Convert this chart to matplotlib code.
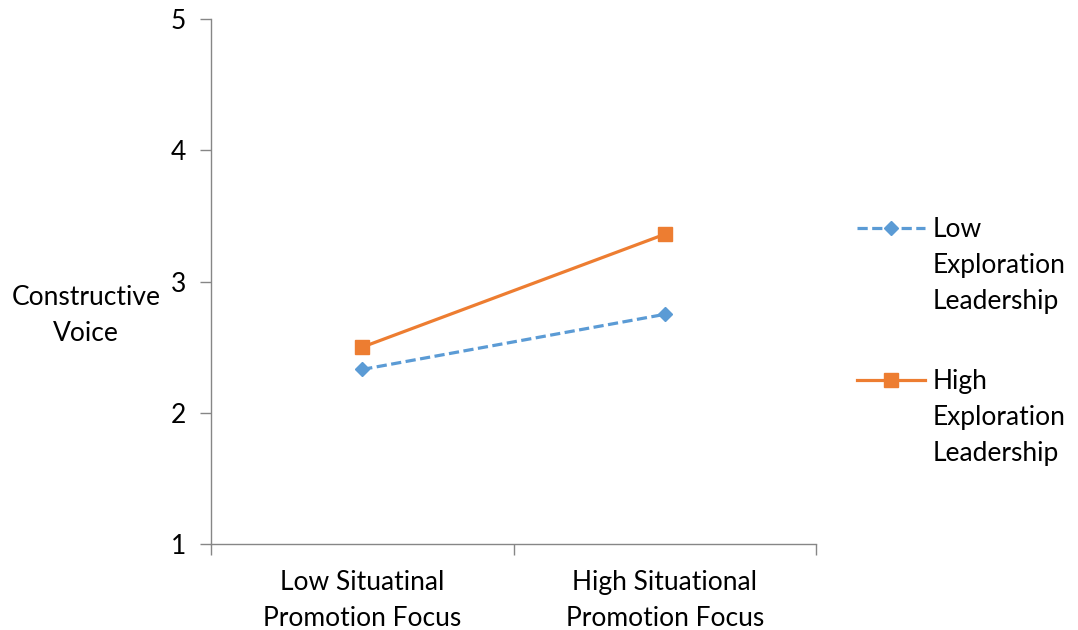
import matplotlib.pyplot as plt
from matplotlib.lines import Line2D
import numpy as np

plt.rcParams['font.family'] = ['Lato', 'DejaVu Sans']

conditions = ["Low Situatinal\nPromotion Focus", "High Situational\nPromotion Focus"]
low_exploration = [2.33, 2.75]
high_exploration = [2.50, 3.36]
series_names = ["Low\nExploration\nLeadership", "High\nExploration\nLeadership"]

FS = 19
LS = 1.55
blue = "#5B9BD5"
orange = "#ED7D31"
dash = (0, (3.2, 1.4))

fig = plt.figure(figsize=(10.78, 6.3), dpi=100)
ax = fig.add_axes([0.1957, 0.1365, 0.5613, 0.8333])

x = np.arange(len(conditions)) + 0.5
ax.plot(x, low_exploration, color=blue, linewidth=2.3, linestyle=dash,
        marker="D", markersize=7.5)
ax.plot(x, high_exploration, color=orange, linewidth=2.3,
        marker="s", markersize=9.5)

ax.set_xlim(0, 2)
ax.set_ylim(1, 5)
ax.set_yticks([1, 2, 3, 4, 5])
ax.set_xticks([0, 1, 2])
ax.set_xticklabels([])
ax.set_xticks(x, minor=True)
ax.set_xticklabels(conditions, minor=True, fontsize=FS, linespacing=LS)
ax.tick_params(axis="x", which="minor", length=0, pad=19)
ax.tick_params(axis="x", which="major", length=8, width=1, color="#868686", direction="out")
ax.tick_params(axis="y", length=8, width=1, color="#868686", labelsize=FS, pad=10)

for side in ["top", "right"]:
    ax.spines[side].set_visible(False)
for side in ["left", "bottom"]:
    ax.spines[side].set_color("#868686")
    ax.spines[side].set_linewidth(1)

fig.text(0.080, 0.4985, "Constructive\nVoice", ha="center", va="center", fontsize=FS, linespacing=LS)

# legend drawn by hand so the key lines up with the first text line
W, H = 1078, 630
legend_rows = [(228, blue, dash, "D", 7.5), (380, orange, "-", "s", 9.5)]
for (ypix, color, ls, mk, ms), name in zip(legend_rows, series_names):
    yf = 1 - ypix / H
    fig.add_artist(Line2D([857 / W, 925 / W], [yf, yf], transform=fig.transFigure,
                          color=color, linewidth=2.3, linestyle=ls))
    fig.add_artist(Line2D([891 / W], [yf], transform=fig.transFigure,
                          color=color, marker=mk, markersize=ms, linestyle="none"))
    fig.text(933 / W, yf + 11 / H, name, ha="left", va="top", fontsize=FS, linespacing=LS)

fig.savefig("out.png", dpi=100)
